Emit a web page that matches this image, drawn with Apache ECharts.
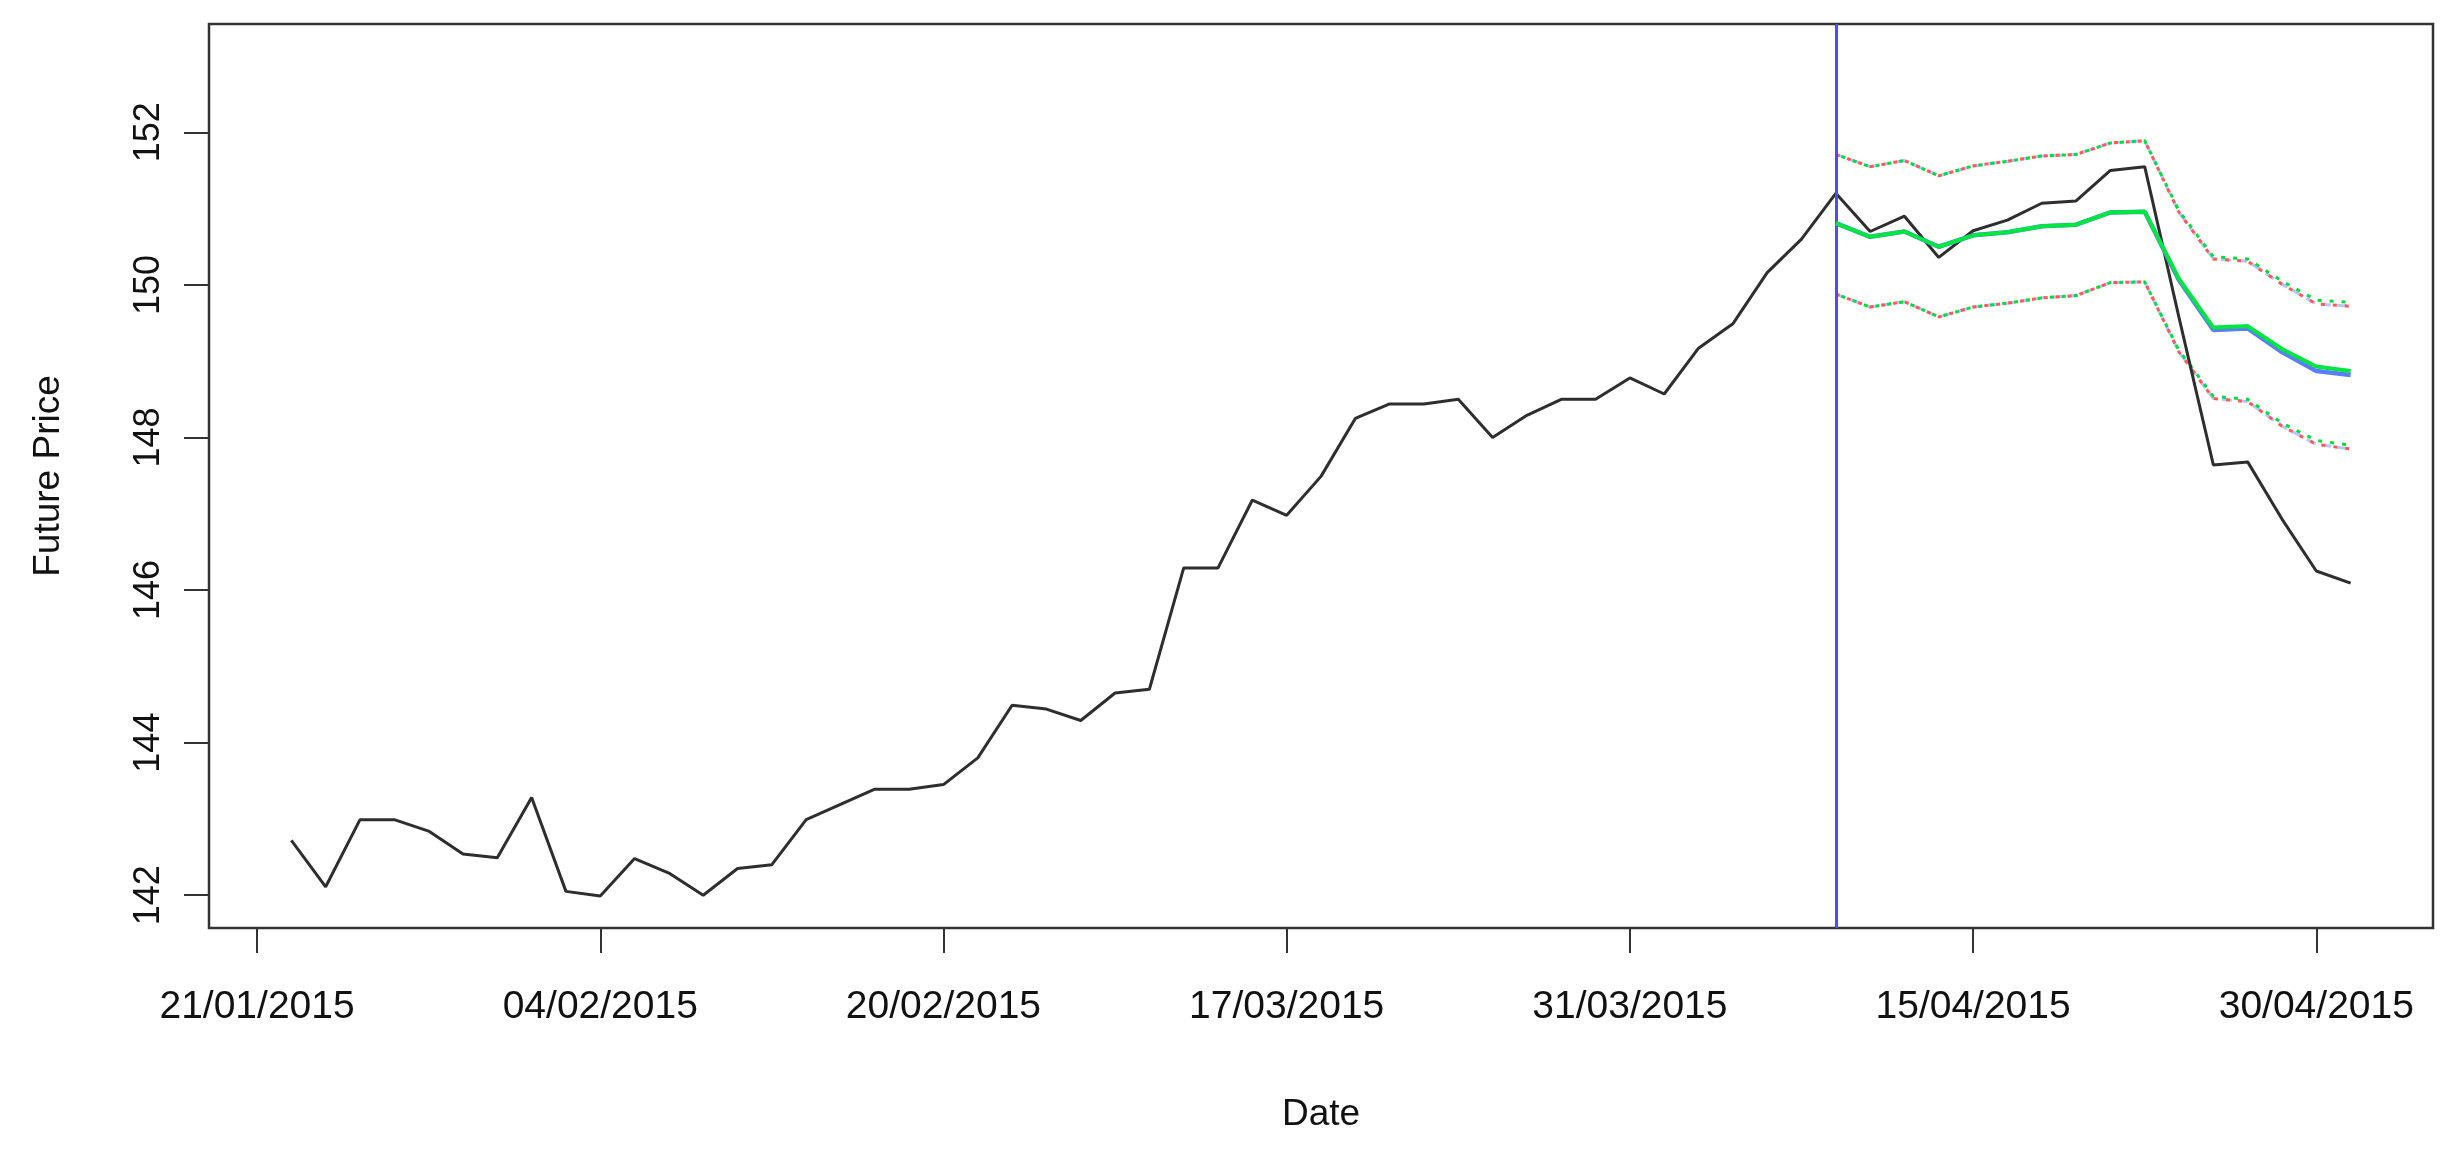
<!DOCTYPE html>
<html>
<head>
<meta charset="utf-8">
<script src="https://cdn.jsdelivr.net/npm/echarts@6/dist/echarts.min.js"></script>
<style>
html,body{margin:0;padding:0;background:#fff;}
#chart{width:2454px;height:1152px;}
</style>
</head>
<body>
<div id="chart"></div>
<script>
// ---- data ----
const xTickPositions = [0, 10, 20, 30, 40, 50, 60];
const xTickLabels = ['21/01/2015', '04/02/2015', '20/02/2015', '17/03/2015', '31/03/2015', '15/04/2015', '30/04/2015'];
const yTicks = [142, 144, 146, 148, 150, 152];

const actualStart = 1;
const actual = [
  142.72, 142.11, 142.99, 142.99, 142.84, 142.54, 142.49, 143.28, 142.05, 141.99,
  142.48, 142.29, 142.00, 142.35, 142.40, 142.99, 143.19, 143.39, 143.39, 143.45,
  143.80, 144.49, 144.44, 144.29, 144.65, 144.70, 146.29, 146.29, 147.18, 146.98,
  147.49, 148.25, 148.44, 148.44, 148.50, 148.00, 148.29, 148.50, 148.50, 148.78,
  148.57, 149.17, 149.49, 150.16, 150.60, 151.20, 150.70, 150.90, 150.36, 150.71,
  150.85, 151.07, 151.10, 151.50, 151.55, 149.57, 147.64, 147.68, 146.93, 146.25, 146.09
];

const forecastStart = 46;
const blueMean = [150.81, 150.63, 150.70, 150.50, 150.65, 150.69, 150.77, 150.79, 150.95, 150.96, 150.06, 149.41, 149.43, 149.12, 148.87, 148.82];
const greenMean = [150.81, 150.63, 150.70, 150.50, 150.65, 150.69, 150.77, 150.79, 150.95, 150.96, 150.08, 149.44, 149.46, 149.16, 148.93, 148.87];
const redUpper = [151.71, 151.55, 151.63, 151.43, 151.56, 151.62, 151.69, 151.71, 151.86, 151.89, 150.95, 150.34, 150.31, 150.01, 149.75, 149.72];
const redLower = [149.88, 149.71, 149.78, 149.58, 149.71, 149.76, 149.83, 149.86, 150.03, 150.04, 149.12, 148.51, 148.47, 148.15, 147.91, 147.85];
const greenUpper = [151.71, 151.55, 151.63, 151.43, 151.56, 151.62, 151.69, 151.71, 151.86, 151.89, 150.97, 150.37, 150.34, 150.05, 149.80, 149.77];
const greenLower = [149.88, 149.71, 149.78, 149.58, 149.71, 149.76, 149.83, 149.86, 150.03, 150.04, 149.14, 148.54, 148.50, 148.19, 147.96, 147.90];
const forecastOrigin = 46;

// ---- build ----
const toPairs = (arr, start) => arr.map((v, i) => [start + i, v]);
const FONT = '"Liberation Sans", Arial, sans-serif';

function ciSeries(name, arr, color, type, dashOffset) {
  return {
    name: name, type: 'line', data: toPairs(arr, forecastStart),
    symbol: 'none', silent: true, z: 3,
    lineStyle: { color: color, width: 3, type: type, dashOffset: dashOffset || 0 }
  };
}

const chart = echarts.init(document.getElementById('chart'), null, { renderer: 'canvas' });
chart.setOption({
  animation: false,
  backgroundColor: '#ffffff',
  grid: {
    left: 209, right: 21, top: 24, bottom: 224,
    show: true, borderColor: '#333333', borderWidth: 2.5, backgroundColor: 'transparent'
  },
  xAxis: {
    type: 'value', min: -1.4, max: 63.4,
    name: 'Date', nameLocation: 'middle', nameGap: 168,
    nameTextStyle: { fontFamily: FONT, fontSize: 37, color: '#111' },
    axisLine: { show: false, onZero: false },
    splitLine: { show: false },
    axisTick: { show: true, inside: false, length: 25, customValues: xTickPositions,
      lineStyle: { color: '#333', width: 2 } },
    axisLabel: { show: true, customValues: xTickPositions, margin: 60,
      fontFamily: FONT, fontSize: 39, color: '#111',
      formatter: function (v) { const i = xTickPositions.indexOf(v); return i >= 0 ? xTickLabels[i] : ''; } }
  },
  yAxis: {
    type: 'value', min: 141.57, max: 153.42,
    name: 'Future Price', nameLocation: 'middle', nameGap: 142, nameRotate: 90,
    nameTextStyle: { fontFamily: FONT, fontSize: 37, color: '#111' },
    axisLine: { show: false, onZero: false },
    splitLine: { show: false },
    axisTick: { show: true, inside: false, length: 25, customValues: yTicks,
      lineStyle: { color: '#333', width: 2 } },
    axisLabel: { show: true, customValues: yTicks, rotate: 90, margin: 42,
      fontFamily: FONT, fontSize: 36, color: '#111',
      formatter: function (v) { return String(v); } }
  },
  series: [
    {
      name: 'Actual', type: 'line', data: toPairs(actual, actualStart),
      symbol: 'none', z: 4,
      lineStyle: { color: '#2e2e2e', width: 3 },
      markLine: {
        silent: true, symbol: 'none', label: { show: false },
        lineStyle: { color: '#4d4df0', width: 3, type: 'solid' },
        data: [{ xAxis: forecastOrigin }]
      }
    },
    ciSeries('Upper (blue)', redUpper, '#b8c4ff', [10, 6], 0),
    ciSeries('Lower (blue)', redLower, '#b8c4ff', [10, 6], 0),
    ciSeries('Upper (red)', redUpper, '#ff5a5a', [4, 8], 0),
    ciSeries('Lower (red)', redLower, '#ff5a5a', [4, 8], 0),
    ciSeries('Upper (green)', greenUpper, '#00dd3c', [4, 8], 6),
    ciSeries('Lower (green)', greenLower, '#00dd3c', [4, 8], 6),
    {
      name: 'Forecast (blue)', type: 'line', data: toPairs(blueMean, forecastStart),
      symbol: 'none', z: 5, lineStyle: { color: '#5a7ef5', width: 4.5 }
    },
    {
      name: 'Forecast (green)', type: 'line', data: toPairs(greenMean, forecastStart),
      symbol: 'none', z: 6, lineStyle: { color: '#00e640', width: 4 }
    }
  ]
});
</script>
</body>
</html>
